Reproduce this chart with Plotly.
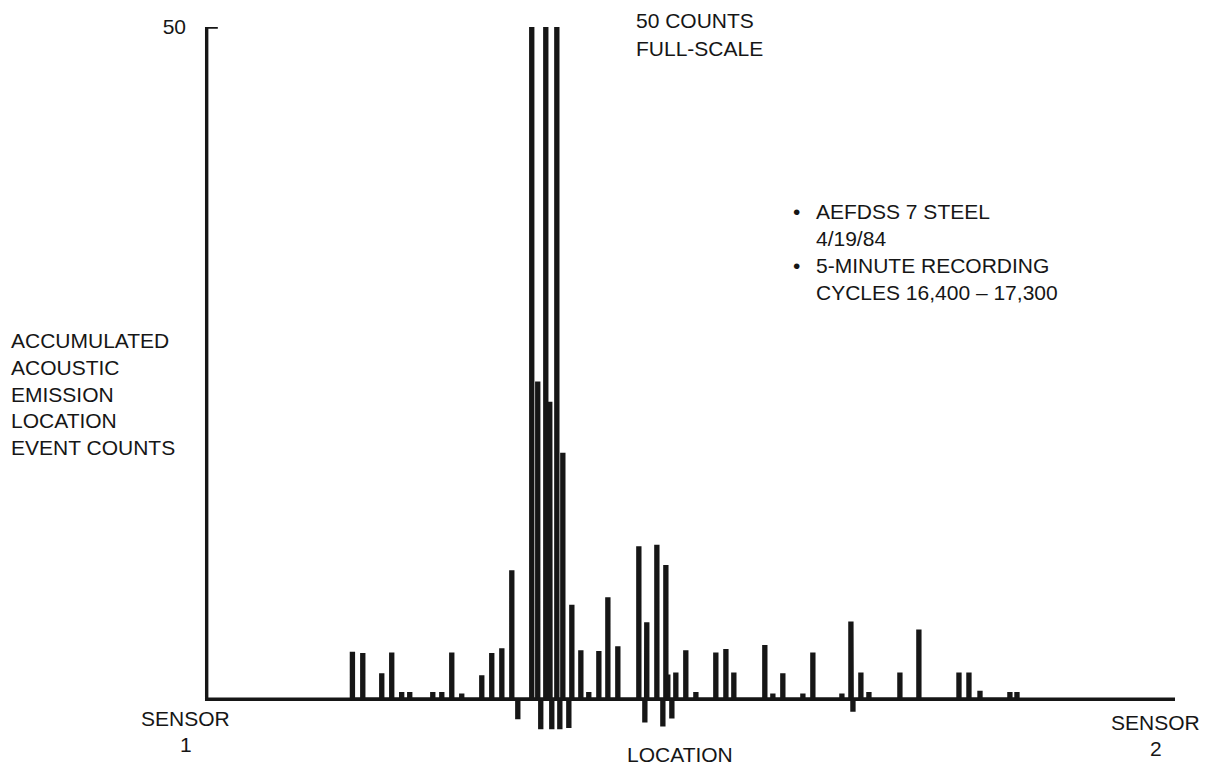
import plotly.graph_objects as go

# Location along the specimen, 0 = SENSOR 1, 100 = SENSOR 2 (percent of span)
location = [15.05, 16.12, 18.08, 19.11, 20.14, 20.97, 23.35, 24.28, 25.31, 26.34,
            28.41, 29.44, 30.48, 31.51, 32.13,
            33.57, 34.19, 34.50, 35.02, 35.43, 35.64, 36.16, 36.47, 36.78, 37.40, 37.71,
            38.64, 39.46, 40.50, 41.43, 42.46, 44.63, 45.25, 45.45, 46.49, 47.11,
            47.42, 47.62, 48.04, 48.45, 49.48, 50.52, 52.58, 53.62, 54.44, 57.64,
            58.47, 59.50, 61.57, 62.60, 65.60, 66.53, 66.74, 67.56, 68.39, 71.59,
            73.55, 77.69, 78.72, 79.86, 82.95, 83.68]

# Accumulated acoustic-emission location event counts (pen excursions below 0 kept as drawn)
event_counts = [3.4, 3.3, 1.8, 3.35, 0.4, 0.4, 0.4, 0.4, 3.35, 0.3,
                1.65, 3.3, 3.65, 9.45, -1.35,
                50, 23.5, -2.1, 50, 22.0, -2.1, 50, -2.1, 18.2, -2.0, 6.9,
                3.5, 0.4, 3.45, 7.45, 3.8, 11.25, -1.6, 5.6, 11.35, -1.9,
                9.85, 1.7, -1.3, 1.85, 3.5, 0.4, 3.35, 3.6, 1.85, 3.9,
                0.3, 1.8, 0.3, 3.35, 0.3, 5.65, -0.8, 1.85, 0.4, 1.85,
                5.05, 1.85, 1.85, 0.5, 0.4, 0.4]

full_scale = 50
y_tick_labels = ["50"]

INK = "#161616"
FONT = "Liberation Sans, Arial, Helvetica, sans-serif"
FS = 21

# page geometry (pixels)
W_PX, H_PX = 1208, 768
AX_X, AX_RIGHT = 207, 1175      # sensor 1 .. sensor 2
Y_TOP, Y_ZERO = 27, 699         # 50 counts .. 0 counts
X_RANGE = [-1.0, 100.0]
Y_RANGE = [-4.0, 50.0]

px_per_x = (AX_RIGHT - AX_X) / 100.0
px_per_y = (Y_ZERO - Y_TOP) / 50.0
plot_left = AX_X + X_RANGE[0] * px_per_x
plot_w = (X_RANGE[1] - X_RANGE[0]) * px_per_x
plot_top = Y_TOP - (Y_RANGE[1] - 50) * px_per_y
plot_h = (Y_RANGE[1] - Y_RANGE[0]) * px_per_y
m_l = plot_left
m_r = W_PX - (plot_left + plot_w)
m_t = plot_top
m_b = H_PX - (plot_top + plot_h)


def pxp(px, py):
    return (px - plot_left) / plot_w, (plot_top + plot_h - py) / plot_h


# pen trace: each event count drawn as a narrow stem from the baseline
half = 0.09
xs, ys = [], []
for loc, c in zip(location, event_counts):
    xs += [loc - half, loc - half, loc + half, loc + half]
    ys += [0, c, c, 0]

fig = go.Figure()
fig.add_trace(go.Scatter(x=xs, y=ys, mode="lines",
                         line=dict(color=INK, width=3.6),
                         hoverinfo="skip", showlegend=False))

# axis frame: tick at full scale, vertical axis, baseline
fig.add_shape(type="path",
              path=f"M 1.15,{full_scale} L 0,{full_scale} L 0,0 L 100,0",
              xref="x", yref="y", line=dict(color=INK, width=3.4), layer="below")

texts = [
    ("50 COUNTS", 635, 21, "left"),
    ("FULL-SCALE", 635, 48, "left"),
    ("•", 797, 211, "center"),
    ("AEFDSS 7 STEEL", 815, 211, "left"),
    ("4/19/84", 815, 238, "left"),
    ("•", 797, 265, "center"),
    ("5-MINUTE RECORDING", 815, 265, "left"),
    ("CYCLES 16,400 – 17,300", 815, 292, "left"),
    ("ACCUMULATED", 10, 340, "left"),
    ("ACOUSTIC", 10, 367, "left"),
    ("EMISSION", 10, 394, "left"),
    ("LOCATION", 10, 420, "left"),
    ("EVENT COUNTS", 10, 447, "left"),
    ("SENSOR", 186, 718, "center"),
    ("1", 186, 744, "center"),
    ("SENSOR", 1156, 722, "center"),
    ("2", 1156, 748, "center"),
    ("LOCATION", 680, 754, "center"),
]
for t, px, py, anc in texts:
    ax, ay = pxp(px, py)
    fig.add_annotation(text=t, x=ax, y=ay, xref="paper", yref="paper",
                       xanchor=anc, yanchor="middle", showarrow=False,
                       borderpad=0,
                       font=dict(family=FONT, size=FS, color=INK))

fig.update_layout(
    width=W_PX, height=H_PX,
    margin=dict(l=m_l, r=m_r, t=m_t, b=m_b, pad=0),
    paper_bgcolor="white", plot_bgcolor="white",
    font=dict(family=FONT, size=FS, color=INK),
    xaxis=dict(range=X_RANGE, showgrid=False, zeroline=False, showline=False,
               showticklabels=False, ticks=""),
    yaxis=dict(range=Y_RANGE, showgrid=False, zeroline=False, showline=False,
               tickvals=[full_scale], ticktext=y_tick_labels, ticks="",
               ticklabelstandoff=10,
               tickfont=dict(family=FONT, size=FS, color=INK)),
)

fig.write_html("out.html")
